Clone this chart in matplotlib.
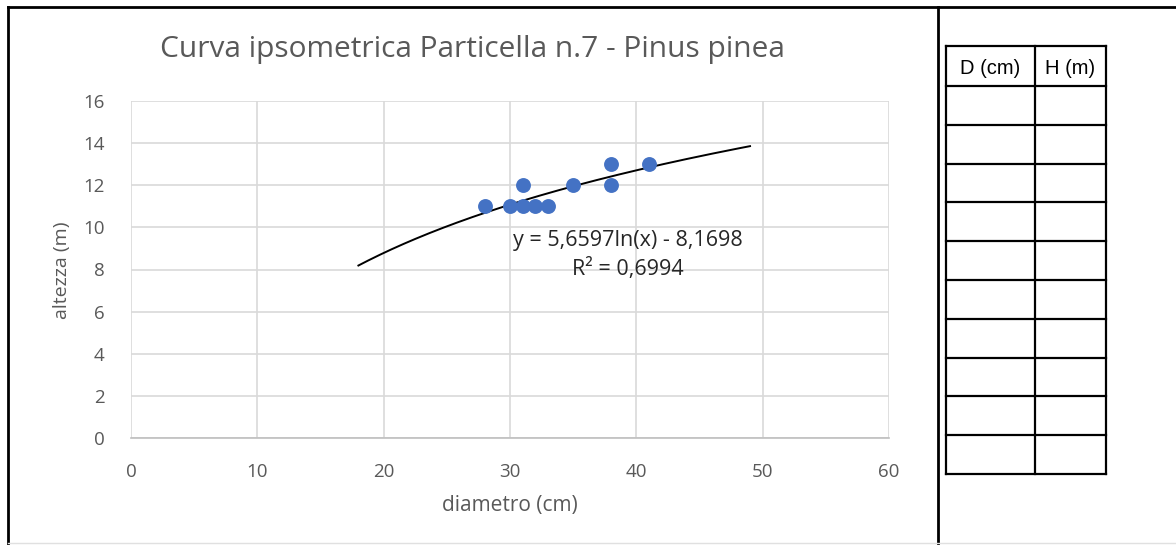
import numpy as np
import matplotlib
matplotlib.use('Agg')
import matplotlib.pyplot as plt
from matplotlib.lines import Line2D

# scatter data
diametro = [28, 30, 31, 31, 32, 33, 35, 38, 38, 41]
altezza = [11, 11, 11, 12, 11, 11, 12, 13, 12, 13]

# logarithmic trendline as printed on the chart
coef_a = 5.6597
coef_b = -8.1698
r2_label = '0,6994'
trend_start, trend_end = 18, 49

x_ticks = [0, 10, 20, 30, 40, 50, 60]
y_ticks = [0, 2, 4, 6, 8, 10, 12, 14, 16]

table_headers = ['D (cm)', 'H (m)']
table_rows = 10

W, H = 1176, 545
grey = '#595959'

fig = plt.figure(figsize=(W / 100, H / 100), dpi=100)
plt.rcParams['font.family'] = ['Open Sans', 'DejaVu Sans']

# chart area
ax = fig.add_axes([131 / W, 1 - 438 / H, (889 - 131) / W, (438 - 101) / H])
ax.set_xlim(0, 60)
ax.set_ylim(0, 16)
ax.set_xticks(x_ticks)
ax.set_yticks(y_ticks)
ax.grid(True, color='#d9d9d9', linewidth=1.2)
ax.set_axisbelow(True)
for side in ['top', 'right', 'left']:
    ax.spines[side].set_visible(False)
ax.spines['bottom'].set_color('#bfbfbf')
ax.spines['bottom'].set_linewidth(1.2)
ax.tick_params(length=0, colors=grey, labelsize=13.5)
ax.tick_params(axis='x', pad=18)
ax.tick_params(axis='y', pad=19)

xs = np.linspace(trend_start, trend_end, 200)
ax.plot(xs, coef_a * np.log(xs) + coef_b, color='black', linewidth=1.4, zorder=2)
ax.scatter(diametro, altezza, s=115, color='#4472c4', zorder=3, linewidths=0)

eq = f'y = {coef_a:.4f}ln(x) - {abs(coef_b):.4f}'.replace('.', ',')
ax.text(39.3, 9.4, eq, ha='center', va='center', fontsize=15.5, color='#262626')
ax.text(39.3, 8.0, f'R² = {r2_label}', ha='center', va='center', fontsize=15.5, color='#262626')

fig.text(472 / W, 1 - 50 / H, 'Curva ipsometrica Particella n.7 - Pinus pinea',
         ha='center', va='center', fontsize=21.5, color=grey)
fig.text(510 / W, 1 - 505 / H, 'diametro (cm)', ha='center', va='center', fontsize=15, color=grey)
fig.text(62 / W, 1 - 270 / H, 'altezza (m)', ha='center', va='center', rotation=90,
         fontsize=14, color=grey)

# outer frame
fig.add_artist(Line2D([8 / W, 1], [1 - 7 / H] * 2, color='black', linewidth=2))
fig.add_artist(Line2D([8 / W] * 2, [0, 1 - 7 / H], color='black', linewidth=2))
fig.add_artist(Line2D([938 / W] * 2, [0, 1 - 7 / H], color='black', linewidth=2))
fig.add_artist(Line2D([8 / W, 1], [1 - 543 / H] * 2, color='#e0e0e0', linewidth=1))

# empty data table on the right
tx = fig.add_axes([940 / W, 0, (W - 940) / W, 1])
tx.set_xlim(940, W)
tx.set_ylim(H, 0)
tx.axis('off')
t_left, t_mid, t_right = 946, 1035, 1106
t_top, t_head = 46, 86
row_h = (474 - t_head) / table_rows
row_lines = [t_top, t_head] + [t_head + row_h * (i + 1) for i in range(table_rows)]
for y in row_lines:
    tx.plot([t_left, t_right], [y, y], color='black', linewidth=1.6)
for x in [t_left, t_mid, t_right]:
    tx.plot([x, x], [t_top, row_lines[-1]], color='black', linewidth=1.6)
for label, cx in zip(table_headers, [(t_left + t_mid) / 2, (t_mid + t_right) / 2]):
    tx.text(cx, (t_top + t_head) / 2 + 3, label, ha='center', va='center', fontsize=14.5,
            family=['Liberation Sans Narrow', 'Liberation Sans', 'DejaVu Sans'], color='black')

fig.savefig('out.png', dpi=100)
